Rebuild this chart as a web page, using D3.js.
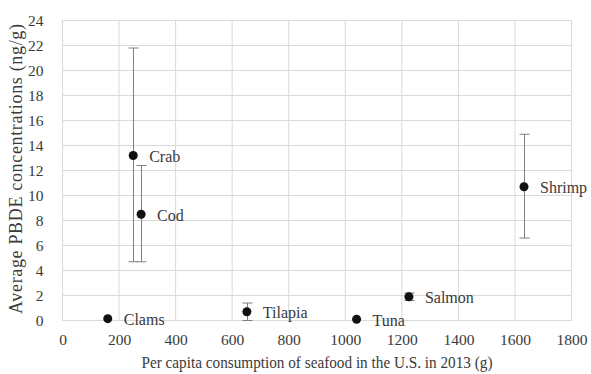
<!DOCTYPE html>
<html><head><meta charset="utf-8">
<script src="https://cdn.jsdelivr.net/npm/d3@7"></script>
<style>body{margin:0;background:#fff}svg{display:block}svg text{font-family:'Liberation Serif','Times New Roman',Times,'DejaVu Serif',serif !important;fill:#3a3a3a}</style>
</head><body>
<svg id="c" width="591" height="374"></svg>
<script>
const names = ["Clams","Crab","Cod","Tilapia","Tuna","Salmon","Shrimp"];
const consumption = [160, 250, 278, 652, 1040, 1225, 1632];
const pbde = [0.15, 13.2, 8.5, 0.7, 0.1, 1.9, 10.7];
const errLow = [null, 4.7, 4.7, 0.0, null, 1.6, 6.6];
const errHigh = [null, 21.8, 12.4, 1.4, null, 2.2, 14.9];
const xTicks = [0,200,400,600,800,1000,1200,1400,1600,1800];
const yTicks = [0,2,4,6,8,10,12,14,16,18,20,22,24];

const FONT = "'Liberation Serif','Times New Roman',Times,'DejaVu Serif',serif";
const svg = d3.select("#c");
const x = d3.scaleLinear().domain([0,1800]).range([62.5,571.5]);
const y = d3.scaleLinear().domain([0,24]).range([320.5,20.5]);

const g = svg.append("g");
g.selectAll(".gx").data(xTicks).join("line")
  .attr("x1",d=>x(d)).attr("x2",d=>x(d)).attr("y1",y(0)).attr("y2",y(24))
  .attr("stroke","#d9d9d9").attr("stroke-width",1);
g.selectAll(".gy").data(yTicks).join("line")
  .attr("x1",x(0)).attr("x2",x(1800)).attr("y1",d=>y(d)).attr("y2",d=>y(d))
  .attr("stroke","#d9d9d9").attr("stroke-width",1);

const xAxis = svg.append("g").attr("transform",`translate(0,${y(0)})`)
  .call(d3.axisBottom(x).tickValues(xTicks).tickFormat(d3.format("d")).tickSize(0).tickPadding(13));
xAxis.attr("font-family",FONT);
xAxis.select(".domain").remove();
xAxis.selectAll("text").attr("font-size",15.5).attr("fill","#3a3a3a").attr("font-family",FONT);

const yAxis = svg.append("g").attr("transform",`translate(${x(0)},0)`)
  .call(d3.axisLeft(y).tickValues(yTicks).tickFormat(d3.format("d")).tickSize(0).tickPadding(19));
yAxis.attr("font-family",FONT);
yAxis.select(".domain").remove();
yAxis.selectAll("text").attr("font-size",15.5).attr("fill","#3a3a3a").attr("font-family",FONT);

const data = names.map((n,i)=>({n, x:consumption[i], y:pbde[i], lo:errLow[i], hi:errHigh[i]}));
const eb = data.filter(d=>d.lo!==null);
const ebg = svg.append("g").attr("stroke","#7f7f7f").attr("stroke-width",1);
eb.forEach(d=>{
  const cx = Math.round(x(d.x))+0.5;
  ebg.append("line").attr("x1",cx).attr("x2",cx).attr("y1",y(d.hi)).attr("y2",y(d.lo));
  ebg.append("line").attr("x1",cx-5).attr("x2",cx+5).attr("y1",y(d.hi)).attr("y2",y(d.hi));
  ebg.append("line").attr("x1",cx-5).attr("x2",cx+5).attr("y1",y(d.lo)).attr("y2",y(d.lo));
});

svg.append("g").selectAll("circle").data(data).join("circle")
  .attr("cx",d=>x(d.x)).attr("cy",d=>y(d.y)).attr("r",4.5).attr("fill","#111");

svg.append("g").selectAll("text").data(data).join("text")
  .attr("x",d=>x(d.x)+16).attr("y",d=>y(d.y)+6.5)
  .attr("font-family",FONT).attr("font-size",16).text(d=>d.n);

svg.append("text").attr("x",317).attr("y",368).attr("text-anchor","middle")
  .attr("font-family",FONT).attr("font-size",17).attr("textLength",351).attr("lengthAdjust","spacingAndGlyphs")
  .text("Per capita consumption of seafood in the U.S. in 2013 (g)");
svg.append("text").attr("transform",`translate(22,${169}) rotate(-90)`)
  .attr("font-family",FONT).attr("text-anchor","middle").attr("font-size",18).attr("textLength",290).attr("lengthAdjust","spacing")
  .text("Average PBDE concentrations (ng/g)");
</script>
</body></html>
